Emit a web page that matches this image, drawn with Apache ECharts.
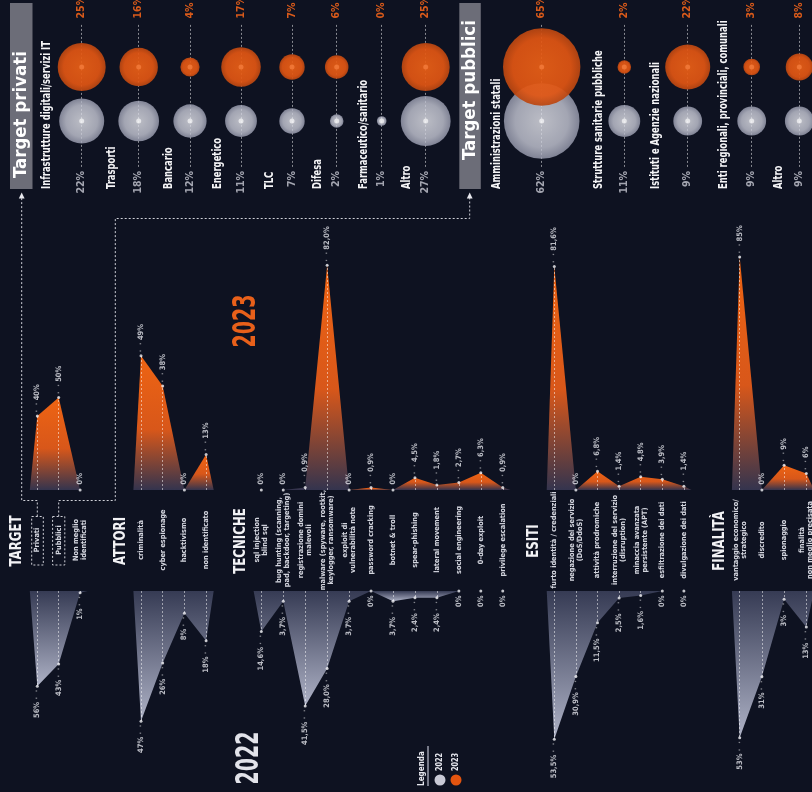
<!DOCTYPE html>
<html><head><meta charset="utf-8">
<script src="https://cdn.jsdelivr.net/npm/echarts@6/dist/echarts.min.js"></script>
<style>html,body{margin:0;padding:0;background:#0e1221}#c{width:812px;height:792px}</style>
</head><body><div id="c"></div><script>
// ---------- DATA ----------
const targetCats = ['Privati','Pubblici','Non meglio\nidentificati'];
const target2022 = [56,43,1];
const target2023 = [40,50,0];
const attoriCats = ['criminalità','cyber espionage','hacktivismo','non identificato'];
const attori2022 = [47,26,8,18];
const attori2023 = [49,38,0,13];
const tecnicheCats = ['sql injection\nblind sql','bug hunting (scanning,\npad, backdoor, targeting)','registrazione domini\nmalevoli','malware (spyware, rootkit,\nkeylogger, ransomware)','exploit di\nvulnerabilità note','password cracking','botnet & troll','spear-phishing','lateral movement','social engineering','0-day exploit','privilege escalation'];
const tecniche2022 = [14.6,3.7,41.5,28.0,3.7,0,3.7,2.4,2.4,0,0,0];
const tecniche2023 = [0,0,0.9,82.0,0,0.9,0,4.5,1.8,2.7,6.3,0.9];
const esitiCats = ['furto identità / credenziali','negazione del servizio\n(DoS/DdoS)','attività prodromiche','interruzione del servizio\n(disruption)','minaccia avanzata\npersistente (APT)','esfiltrazione dei dati','divulgazione dei dati'];
const esiti2022 = [53.5,30.9,11.5,2.5,1.6,0,0];
const esiti2023 = [81.6,0,6.8,1.4,4.8,3.9,1.4];
const finalitaCats = ['vantaggio economico/\nstrategico','discredito','spionaggio','finalità\nnon meglio precisata'];
const finalita2022 = [53,31,3,13];
const finalita2023 = [85,0,9,6];

const privatiCats = ['Infrastrutture digitali/servizi IT','Trasporti','Bancario','Energetico','TLC','Difesa','Farmaceutico/sanitario','Altro'];
const privati2022 = [22,18,12,11,7,2,1,27];
const privati2023 = [25,16,4,17,7,6,0,25];
const pubbliciCats = ['Amministrazioni statali','Strutture sanitarie pubbliche','Istituti e Agenzie nazionali','Enti regionali, provinciali, comunali','Altro'];
const pubblici2022 = [62,11,9,9,9];
const pubblici2023 = [65,2,22,3,8];

// ---------- LAYOUT / STYLE ----------
const FONT = "'Liberation Sans Narrow','DejaVu Sans Condensed',sans-serif";
const BG = '#0e1221';
const ORANGE = '#e8601a';
const BASE23 = 490, BASE22 = 591;
const sections = [
  {title:'TARGET',   cats:targetCats,   v22:target2022,   v23:target2023,   dec:false, x0:37.3,  step:21.4, s23:1.85, s22:1.7},
  {title:'ATTORI',   cats:attoriCats,   v22:attori2022,   v23:attori2023,   dec:false, x0:141,   step:21.7, s23:2.74, s22:2.77},
  {title:'TECNICHE', cats:tecnicheCats, v22:tecniche2022, v23:tecniche2023, dec:true,  x0:261.3, step:21.95,s23:2.74, s22:2.77},
  {title:'ESITI',    cats:esitiCats,    v22:esiti2022,    v23:esiti2023,    dec:true,  x0:554.3, step:21.6, s23:2.74, s22:2.77},
  {title:'FINALITÀ', cats:finalitaCats, v22:finalita2022, v23:finalita2023, dec:false, x0:739.7, step:22.2, s23:2.74, s22:2.77}
];
const privatiColX = [81.7,138.7,190,241,292,336.7,381.7,425.7];
const privatiLabX = [46.7,111.7,168.3,217.3,269.3,317.3,363.3,406.7];
const pubbliciColX = [541.7,624.3,687.7,751.7,799.3];
const pubbliciLabX = [496.7,598.3,656,723.3,778.3];

const grids=[], xAxes=[], yAxes=[], series=[], graphics=[];
function addGrid(g,x,y){
  grids.push(Object.assign({outerBoundsMode:'none',containLabel:false},g));
  const i=grids.length-1;
  xAxes.push(Object.assign({gridIndex:i},x));
  yAxes.push(Object.assign({gridIndex:i},y));
  return i;
}
function fmt(v,dec){ if(v===0) return '0%'; return (dec? v.toFixed(1).replace('.',','):String(v))+'%'; }
const EDGE=0.35;
function segments(vals){
  const segs=[]; const n=vals.length; let i=0;
  while(i<n){
    if(vals[i]===0){i++;continue;}
    let j=i; while(j+1<n && vals[j+1]!==0) j++;
    const pts=[];
    pts.push(i>0?[i-1,0]:[i-EDGE,0]);
    for(let k=i;k<=j;k++) pts.push([k,vals[k]]);
    pts.push(j<n-1?[j+1,0]:[j+EDGE,0]);
    segs.push(pts); i=j+1;
  }
  return segs;
}
const grad23={type:'linear',x:0,y:0,x2:0,y2:1,colorStops:[{offset:0,color:'#ee6413'},{offset:0.55,color:'#d8571a'},{offset:1,color:'#34344e'}]};
const grad22={type:'linear',x:0,y:0,x2:0,y2:1,colorStops:[{offset:0,color:'#363b54'},{offset:1,color:'#aeb2c6'}]};
const txt = {fontFamily:FONT,fontWeight:'bold'};
function vtext(x,y,text,size,fill,align,sx){
  return {type:'text',x,y,rotation:Math.PI/2,scaleX:sx||1,z:10,silent:true,
    style:Object.assign({text,fill,fontSize:size,align,verticalAlign:'middle'},txt)};
}

function ptLabel(up,dec){
  return {show:true, position: up?'top':'bottom', distance:2, rotate:90, align: up?'left':'right', verticalAlign:'middle',
    fontFamily:FONT, fontSize:7.5, fontWeight:'bold', color:'#e6e7ee',
    formatter: p => { const v=p.value[1]; const t=fmt(v,dec); if(v===0) return '{v|'+t+'}'; return up? '{d|·  · }{v|'+t+'}' : '{v|'+t+'}{d| ·  ·}'; },
    rich:{v:{fontFamily:FONT,fontSize:7.5,fontWeight:'bold',color:'#e6e7ee'}, d:{fontFamily:FONT,fontSize:7.5,color:'rgba(255,255,255,0.6)'}}};
}

sections.forEach(sec=>{
  const n=sec.cats.length;
  const left=sec.x0-sec.step, width=(n+1)*sec.step;
  [[true,sec.v23,sec.s23],[false,sec.v22,sec.s22]].forEach(([up,vals,sc])=>{
    const h=100*sc;
    const gi=addGrid({left, width, top: up? BASE23-h : BASE22, height:h},
      up? {type:'value',min:-1,max:n,show:false}
        : {type:'value',min:-1,max:n,interval:1,position:'top',axisLine:{show:false},axisTick:{show:false},splitLine:{show:false},
           axisLabel:{show:true,rotate:90,margin:51,align:'center',verticalAlign:'middle',formatter:v=>sec.cats[v]||'',
             color:'#d3d5de',fontSize:7.3,fontWeight:'bold',fontFamily:FONT,lineHeight:8}},
      {type:'value',min:0,max:100,inverse:!up,show:false});
    segments(vals).forEach(pts=>series.push({type:'line',xAxisIndex:gi,yAxisIndex:gi,data:pts,symbol:'none',silent:true,
      lineStyle:{width:0},areaStyle:{color: up?grad23:grad22,opacity:1},z:2}));
    series.push({type:'scatter',xAxisIndex:gi,yAxisIndex:gi,symbolSize:3,itemStyle:{color:'#f2f2f6'},z:4,silent:true,
      data: vals.map((v,i)=> v===0 ? {value:[i,v],label:{distance:up?4:3}} : {value:[i,v]}),
      label: ptLabel(up,sec.dec),
      markLine:{silent:true,symbol:['none','none'],z:3,label:{show:false},animation:false,
        lineStyle:{type:[2,2],color:'rgba(255,255,255,0.5)',width:1},
        data: vals.map((v,i)=> v>0 ? [{coord:[i,0]},{coord:[i,v]}] : null).filter(Boolean)}});
  });
  graphics.push(vtext(sec.x0-20,541,sec.title,16,'#f2f2f5','center',0.82));
});

// ---------- BUBBLES ----------
const bsize = v => 9.6*Math.sqrt(v);
const greyBub={type:'radial',x:0.5,y:0.5,r:0.5,colorStops:[{offset:0,color:'#e6e7ee'},{offset:0.7,color:'#c8cad7'},{offset:1,color:'#9c9fb2'}]};
const orBub={type:'radial',x:0.5,y:0.5,r:0.5,colorStops:[{offset:0,color:'#e95f16'},{offset:0.75,color:'#e05513'},{offset:1,color:'#b94611'}]};
function bubbles(cats,v22,v23,colX,labX){
  cats.forEach((c,i)=>{
    const gi=addGrid({left:colX[i]-30,top:13,width:60,height:162},
      {type:'category',data:[c],show:false},{type:'value',min:0,max:3,show:false});
    const s22=bsize(v22[i]), s23=bsize(v23[i]);
    series.push({type:'scatter',xAxisIndex:gi,yAxisIndex:gi,z:2,silent:true,data:[[0,1,v22[i]]],symbolSize:s22,
      itemStyle:{color:greyBub},
      label:{show:true,position:'bottom',distance:50-s22/2,rotate:90,align:'right',verticalAlign:'middle',
        formatter:v22[i]+'%',color:'#c9cad4',fontSize:10.5,fontWeight:'bold',fontFamily:FONT},
      markLine:{silent:true,symbol:['none','none'],z:1,label:{show:false},animation:false,
        lineStyle:{type:[2,2],color:'rgba(255,255,255,0.5)',width:1},data:[[{coord:[0,0.15]},{coord:[0,2.8]}]]}});
    series.push({type:'scatter',xAxisIndex:gi,yAxisIndex:gi,z:3,silent:true,data:[[0,2,v23[i]]],symbolSize:s23,
      itemStyle:{color:orBub,opacity:0.93},
      label:{show:true,position:'top',distance:48.5-s23/2,rotate:90,align:'left',verticalAlign:'middle',
        formatter:v23[i]+'%',color:ORANGE,fontSize:10.5,fontWeight:'bold',fontFamily:FONT}});
    const dots=[];
    if(v22[i]>0) dots.push({value:[0,1],itemStyle:{color:'rgba(255,255,255,0.8)'}});
    if(v23[i]>0) dots.push({value:[0,2],itemStyle:{color:'#f47c3c'}});
    series.push({type:'scatter',xAxisIndex:gi,yAxisIndex:gi,z:5,silent:true,symbolSize:5,data:dots});
    graphics.push(vtext(labX[i],189,c,13,'#f4f4f6','left',0.72));
  });
}
bubbles(privatiCats,privati2022,privati2023,privatiColX,privatiLabX);
bubbles(pubbliciCats,pubblici2022,pubblici2023,pubbliciColX,pubbliciLabX);

// ---------- DECORATION ----------
graphics.push({type:'rect',shape:{x:10,y:3,width:22.5,height:186},style:{fill:'#6c6d78'},z:1,silent:true});
graphics.push({type:'rect',shape:{x:459.3,y:3,width:21.5,height:186},style:{fill:'#6c6d78'},z:1,silent:true});
graphics.push(vtext(21.3,178,'Target privati',18.5,'#ffffff','left',1));
graphics.push(vtext(470,160,'Target pubblici',18.5,'#ffffff','left',1));
const dash={stroke:'#cfd0d8',lineWidth:1,lineDash:[2,2],fill:null};
graphics.push({type:'polyline',shape:{points:[[37.3,516.5],[37.3,500.5],[21.7,500.5],[21.7,198]]},style:dash,silent:true,z:1});
graphics.push({type:'polyline',shape:{points:[[58.7,516.5],[58.7,500.5],[115.3,500.5],[115.3,218.5],[469.7,218.5],[469.7,198]]},style:dash,silent:true,z:1});
graphics.push({type:'polygon',shape:{points:[[21.7,192.5],[18.8,198.5],[24.6,198.5]]},style:{fill:'#e8e8ee'},silent:true});
graphics.push({type:'polygon',shape:{points:[[469.7,192.5],[466.8,198.5],[472.6,198.5]]},style:{fill:'#e8e8ee'},silent:true});
graphics.push({type:'rect',shape:{x:31.7,y:516.5,width:11.6,height:48.5},style:dash,silent:true,z:1});
graphics.push({type:'rect',shape:{x:52.6,y:516.5,width:12.2,height:48.5},style:dash,silent:true,z:1});

graphics.push(vtext(246.7,321,'2023',32,ORANGE,'center',0.66));
graphics.push(vtext(250,758,'2022',32,'#e2e3ea','center',0.66));

// legend
graphics.push(vtext(421.7,786,'Legenda',9.5,'#e6e7ee','left',0.85));
graphics.push({type:'line',shape:{x1:428,y1:746,x2:428,y2:786},style:{stroke:'#9a9cab',lineWidth:1.5},silent:true});
graphics.push({type:'circle',shape:{cx:440,cy:780,r:5.5},style:{fill:'#c9cad6'},silent:true});
graphics.push({type:'circle',shape:{cx:456,cy:780,r:5.5},style:{fill:'#e3540f'},silent:true});
graphics.push(vtext(440,771,'2022',8.5,'#e6e7ee','left',0.85));
graphics.push(vtext(456,771,'2023',8.5,'#e6e7ee','left',0.85));

const chart=echarts.init(document.getElementById('c'),null,{renderer:'canvas'});
chart.setOption({backgroundColor:BG,animation:false,grid:grids,xAxis:xAxes,yAxis:yAxes,series,graphic:{elements:graphics}});
</script></body></html>
